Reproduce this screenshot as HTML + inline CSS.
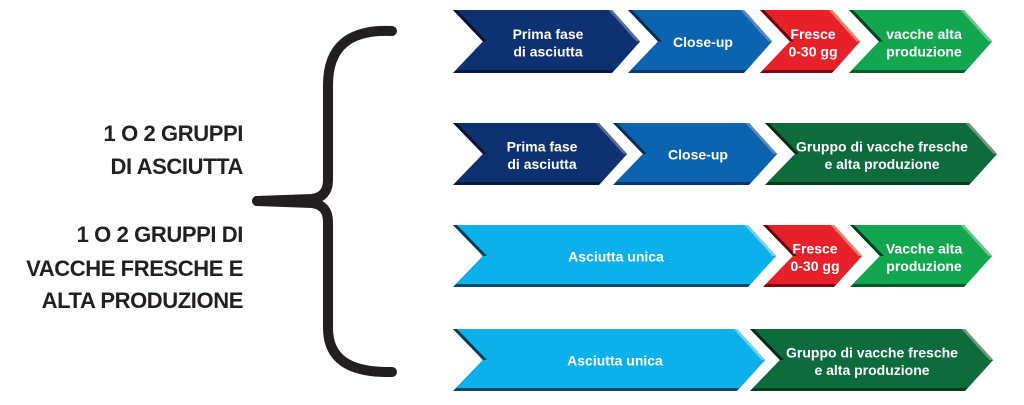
<!DOCTYPE html>
<html>
<head>
<meta charset="utf-8">
<style>
  html,body{margin:0;padding:0;background:#fff;}
  body{width:1024px;height:405px;overflow:hidden;}
  svg{display:block;}
  .lt{font-family:"Liberation Sans",sans-serif;font-weight:bold;font-size:22px;fill:#231f20;letter-spacing:-0.4px;}
  .at{font-family:"Liberation Sans",sans-serif;font-weight:bold;font-size:14px;fill:#fff;}
</style>
</head>
<body>
<svg width="1024" height="405" viewBox="0 0 1024 405" xmlns="http://www.w3.org/2000/svg">
  <rect width="1024" height="405" fill="#fff"/>

  <!-- Left labels -->
  <g class="lt" text-anchor="end">
    <text x="243" y="141">1 O 2 GRUPPI</text>
    <text x="243" y="174">DI ASCIUTTA</text>
    <text x="243" y="242">1 O 2 GRUPPI DI</text>
    <text x="243" y="276">VACCHE FRESCHE E</text>
    <text x="243" y="308">ALTA PRODUZIONE</text>
  </g>

  <!-- Brace -->
  <g fill="none" stroke="#231f20" stroke-width="10" stroke-linecap="round" stroke-linejoin="round">
    <path d="M392,31 C348,29 328,48 328,85 L328,180 Q328,197 312,199 L257,201"/>
    <path d="M257,201 L312,203 Q328,205 328,222 L328,328 C328,358 348,373 392,372"/>
  </g>

  <!-- ROW 1 -->
  <g>
    <polygon fill="#061a40" points="453,10 612,10 640,41.5 612,73 453,73 483,41.5"/>
    <polygon fill="#0e3172" points="453,10 612,10 640,41.5 614.7,70 455.9,70 483,41.5"/>
    <polygon fill="#05142f" points="453,10 483,41.5 487,41.5 457,10"/>
    <polygon fill="#5a6c9c" points="612,10 640,41.5 636.5,41.5 608.5,10"/>

    <polygon fill="#0a3a70" points="628,10 744,10 772,41.5 744,73 628,73 658,41.5"/>
    <polygon fill="#0c63b0" points="628,10 744,10 772,41.5 746.7,70 630.9,70 658,41.5"/>
    <polygon fill="#082d55" points="628,10 658,41.5 662,41.5 632,10"/>
    <polygon fill="#5589c4" points="744,10 772,41.5 768.5,41.5 740.5,10"/>

    <polygon fill="#7a0c10" points="760,10 832,10 860,41.5 832,73 760,73 790,41.5"/>
    <polygon fill="#e8202a" points="760,10 832,10 860,41.5 834.7,70 762.9,70 790,41.5"/>
    <polygon fill="#5e0a0c" points="760,10 790,41.5 794,41.5 764,10"/>
    <polygon fill="#f47d62" points="832,10 860,41.5 856.5,41.5 828.5,10"/>

    <polygon fill="#0a5a2a" points="849,10 964,10 992,41.5 964,73 849,73 879,41.5"/>
    <polygon fill="#12a651" points="849,10 964,10 992,41.5 966.7,70 851.9,70 879,41.5"/>
    <polygon fill="#083f1e" points="849,10 879,41.5 883,41.5 853,10"/>
    <polygon fill="#6cc58a" points="964,10 992,41.5 988.5,41.5 960.5,10"/>
  </g>
  <g class="at" text-anchor="middle">
    <text x="548" y="39">Prima fase</text>
    <text x="548" y="56.5">di asciutta</text>
    <text x="703" y="47">Close-up</text>
    <text x="813" y="39">Fresce</text>
    <text x="813" y="56.5">0-30 gg</text>
    <text x="924" y="39">vacche alta</text>
    <text x="924" y="56.5">produzione</text>
  </g>

  <!-- ROW 2 -->
  <g>
    <polygon fill="#061a40" points="453,123 599,123 627,154 599,185 453,185 483,154"/>
    <polygon fill="#0e3172" points="453,123 599,123 627,154 601.7,182 455.9,182 483,154"/>
    <polygon fill="#05142f" points="453,123 483,154 487,154 457,123"/>
    <polygon fill="#5a6c9c" points="599,123 627,154 623.5,154 595.5,123"/>

    <polygon fill="#0a3a70" points="613,123 749,123 777,154 749,185 613,185 643,154"/>
    <polygon fill="#0c63b0" points="613,123 749,123 777,154 751.7,182 615.9,182 643,154"/>
    <polygon fill="#082d55" points="613,123 643,154 647,154 617,123"/>
    <polygon fill="#5589c4" points="749,123 777,154 773.5,154 745.5,123"/>

    <polygon fill="#063d1f" points="765,123 969,123 997,154 969,185 765,185 795,154"/>
    <polygon fill="#0e6b3b" points="765,123 969,123 997,154 971.7,182 767.9,182 795,154"/>
    <polygon fill="#042a15" points="765,123 795,154 799,154 769,123"/>
    <polygon fill="#6f9a7c" points="969,123 997,154 993.5,154 965.5,123"/>
  </g>
  <g class="at" text-anchor="middle">
    <text x="542" y="151.5">Prima fase</text>
    <text x="542" y="169">di asciutta</text>
    <text x="698" y="159.5">Close-up</text>
    <text x="882" y="151.5">Gruppo di vacche fresche</text>
    <text x="882" y="169">e alta produzione</text>
  </g>

  <!-- ROW 3 -->
  <g>
    <polygon fill="#0a4a6a" points="453,225 748,225 776,256 748,287 453,287 483,256"/>
    <polygon fill="#0cb0ea" points="453,225 748,225 776,256 750.7,284 455.9,284 483,256"/>
    <polygon fill="#0a3a55" points="453,225 483,256 487,256 457,225"/>
    <polygon fill="#6fd0f4" points="748,225 776,256 772.5,256 744.5,225"/>

    <polygon fill="#7a0c10" points="763,225 834,225 862,256 834,287 763,287 793,256"/>
    <polygon fill="#e8202a" points="763,225 834,225 862,256 836.7,284 765.9,284 793,256"/>
    <polygon fill="#5e0a0c" points="763,225 793,256 797,256 767,225"/>
    <polygon fill="#f47d62" points="834,225 862,256 858.5,256 830.5,225"/>

    <polygon fill="#0a5a2a" points="850,225 964,225 992,256 964,287 850,287 880,256"/>
    <polygon fill="#12a651" points="850,225 964,225 992,256 966.7,284 852.9,284 880,256"/>
    <polygon fill="#083f1e" points="850,225 880,256 884,256 854,225"/>
    <polygon fill="#6cc58a" points="964,225 992,256 988.5,256 960.5,225"/>
  </g>
  <g class="at" text-anchor="middle">
    <text x="616" y="261.5">Asciutta unica</text>
    <text x="815" y="253.5">Fresce</text>
    <text x="815" y="271">0-30 gg</text>
    <text x="924" y="253.5">Vacche alta</text>
    <text x="924" y="271">produzione</text>
  </g>

  <!-- ROW 4 -->
  <g>
    <polygon fill="#0a4a6a" points="453,329 737,329 765,360 737,391 453,391 483,360"/>
    <polygon fill="#0cb0ea" points="453,329 737,329 765,360 739.7,388 455.9,388 483,360"/>
    <polygon fill="#0a3a55" points="453,329 483,360 487,360 457,329"/>
    <polygon fill="#6fd0f4" points="737,329 765,360 761.5,360 733.5,329"/>

    <polygon fill="#063d1f" points="750,329 965,329 993,360 965,391 750,391 780,360"/>
    <polygon fill="#0e6b3b" points="750,329 965,329 993,360 967.7,388 752.9,388 780,360"/>
    <polygon fill="#042a15" points="750,329 780,360 784,360 754,329"/>
    <polygon fill="#6f9a7c" points="965,329 993,360 989.5,360 961.5,329"/>
  </g>
  <g class="at" text-anchor="middle">
    <text x="615" y="365.5">Asciutta unica</text>
    <text x="872" y="357.5">Gruppo di vacche fresche</text>
    <text x="872" y="375">e alta produzione</text>
  </g>
</svg>
</body>
</html>
